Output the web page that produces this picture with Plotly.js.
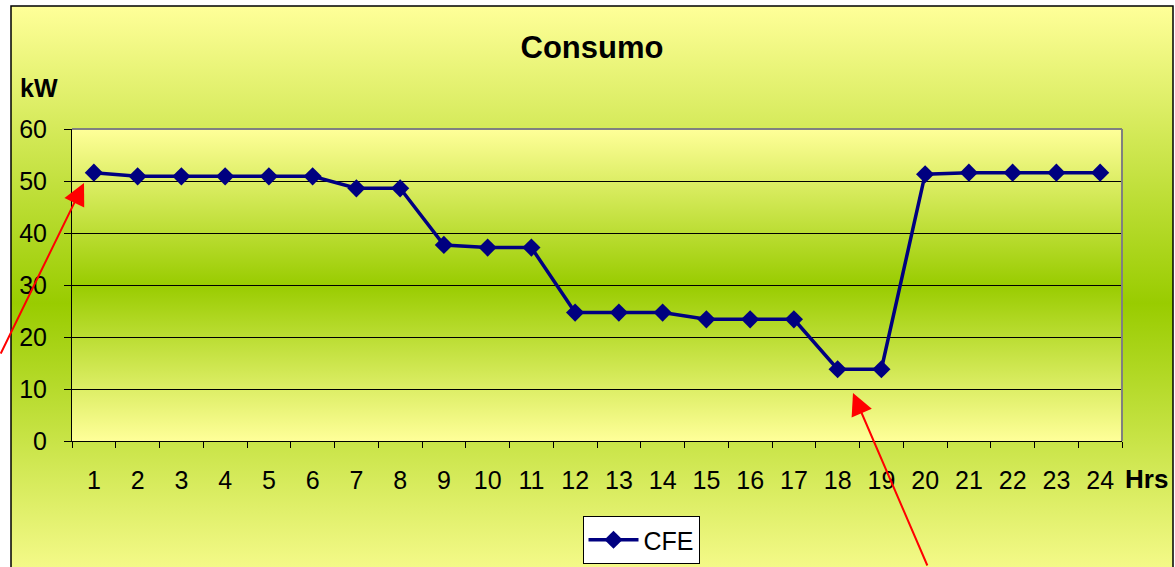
<!DOCTYPE html>
<html>
<head>
<meta charset="utf-8">
<script src="https://cdn.plot.ly/plotly-3.0.1.min.js"></script>
<style>
  html, body { margin: 0; padding: 0; background: #ffffff; }
  #chart { width: 1175px; height: 567px; }
</style>
</head>
<body>
<div id="chart"></div>
<script>
// ---- data ----
const hours = ["1","2","3","4","5","6","7","8","9","10","11","12","13","14","15","16","17","18","19","20","21","22","23","24"];
const cfe = [51.6, 50.9, 50.9, 50.9, 50.9, 50.9, 48.6, 48.6, 37.7, 37.2, 37.2, 24.7, 24.7, 24.7, 23.4, 23.4, 23.4, 13.8, 13.8, 51.3, 51.6, 51.6, 51.6, 51.6];
const seriesName = "CFE";
const chartTitle = "Consumo";
const yUnit = "kW";
const xUnit = "Hrs";
const yTicks = [0, 10, 20, 30, 40, 50, 60];

// ---- layout geometry ----
const W = 1175, H = 567;
const M = { l: 72, r: 53, t: 129, b: 126, autoexpand: false };
const PW = W - M.l - M.r, PH = H - M.t - M.b;
const px = x => (x - M.l) / PW;
const py = y => (H - M.b - y) / PH;

const FONT = '"Liberation Sans", Arial, Helvetica, sans-serif';

function gradientSvg() {
  const svg = '<svg xmlns="http://www.w3.org/2000/svg" width="100" height="100" preserveAspectRatio="none">' +
    '<defs><linearGradient id="g" x1="0" y1="0" x2="0" y2="1">' +
    '<stop offset="0" stop-color="#FFFF99"/>' +
    '<stop offset="0.5" stop-color="#99CC00"/>' +
    '<stop offset="1" stop-color="#FFFF99"/>' +
    '</linearGradient></defs><rect width="100" height="100" fill="url(#g)"/></svg>';
  return 'data:image/svg+xml;charset=utf-8,' + encodeURIComponent(svg);
}
const grad = gradientSvg();

const trace = {
  x: hours,
  y: cfe,
  type: 'scatter',
  mode: 'lines+markers',
  name: seriesName,
  line: { color: '#000080', width: 3.5 },
  marker: { symbol: 'diamond', size: 14, color: '#000080' },
  cliponaxis: false
};

const outerTop = 6, outerBottom = 600, outerLeft = 11, outerRight = 1173;

const layout = {
  width: W, height: H,
  margin: M,
  paper_bgcolor: '#ffffff',
  plot_bgcolor: 'rgba(0,0,0,0)',
  font: { family: FONT, size: 25, color: '#000000' },
  showlegend: true,
  title: {
    text: '<b>' + chartTitle + '</b>',
    font: { family: FONT, size: 31, color: '#000000' },
    xref: 'paper', x: px(592), xanchor: 'center',
    yref: 'container', y: 1 - 47 / H, yanchor: 'middle'
  },
  xaxis: {
    type: 'category',
    range: [-0.5, 23.5],
    showgrid: false,
    showline: true, linecolor: '#000000', linewidth: 1,
    ticks: 'outside', ticklen: 6, tickcolor: '#000000', tickwidth: 1,
    tickson: 'boundaries',
    ticklabelstandoff: 17,
    tickfont: { family: FONT, size: 25, color: '#000000' },
    zeroline: false,
    automargin: false,
    fixedrange: true
  },
  yaxis: {
    range: [0, 60],
    tickvals: yTicks,
    showgrid: true, gridcolor: '#000000', gridwidth: 1,
    showline: true, linecolor: '#000000', linewidth: 1,
    ticks: 'outside', ticklen: 7, tickcolor: '#000000', tickwidth: 1,
    ticklabelstandoff: 12,
    tickfont: { family: FONT, size: 25, color: '#000000' },
    zeroline: false,
    automargin: false,
    fixedrange: true
  },
  legend: {
    orientation: 'h',
    x: px(641), xanchor: 'center',
    y: py(540), yanchor: 'middle',
    itemwidth: 50,
    bgcolor: '#ffffff', bordercolor: '#000000', borderwidth: 1,
    font: { family: FONT, size: 25, color: '#000000' }
  },
  images: [
    {
      source: grad, xref: 'paper', yref: 'paper',
      x: px(outerLeft), y: py(outerTop),
      sizex: px(outerRight) - px(outerLeft), sizey: py(outerTop) - py(outerBottom),
      xanchor: 'left', yanchor: 'top', sizing: 'stretch', layer: 'below'
    },
    {
      source: grad, xref: 'paper', yref: 'paper',
      x: 0, y: 1, sizex: 1, sizey: 1,
      xanchor: 'left', yanchor: 'top', sizing: 'stretch', layer: 'below'
    }
  ],
  shapes: [
    { type: 'rect', xref: 'paper', yref: 'paper', layer: 'below',
      x0: px(outerLeft), x1: px(outerRight), y0: py(outerBottom), y1: py(outerTop),
      line: { color: '#000000', width: 1.5 }, fillcolor: 'rgba(0,0,0,0)' },
    { type: 'line', xref: 'paper', yref: 'paper', x0: 0, x1: 1, y0: 1, y1: 1,
      line: { color: '#808080', width: 2 } },
    { type: 'line', xref: 'paper', yref: 'paper', x0: 1, x1: 1, y0: 0, y1: 1,
      line: { color: '#808080', width: 2 } }
  ],
  annotations: [
    { text: '<b>' + yUnit + '</b>', xref: 'paper', yref: 'paper',
      x: px(39), y: py(88), xanchor: 'center', yanchor: 'middle',
      showarrow: false, font: { family: FONT, size: 25, color: '#000000' } },
    { text: '<b>' + xUnit + '</b>', xref: 'paper', yref: 'paper',
      x: px(1146), y: py(479), xanchor: 'center', yanchor: 'middle',
      showarrow: false, font: { family: FONT, size: 26, color: '#000000' } },
    { text: '', xref: 'paper', yref: 'paper',
      x: px(84), y: py(183), ax: -94, ay: 172,
      showarrow: true, arrowhead: 2, arrowsize: 2.2, arrowwidth: 2, arrowcolor: '#FF0000' },
    { text: '', xref: 'paper', yref: 'paper',
      x: px(853), y: py(393), ax: 75, ay: 196,
      showarrow: true, arrowhead: 2, arrowsize: 2.2, arrowwidth: 2, arrowcolor: '#FF0000' }
  ]
};

Plotly.newPlot('chart', [trace], layout, { displayModeBar: false, staticPlot: true });
</script>
</body>
</html>
